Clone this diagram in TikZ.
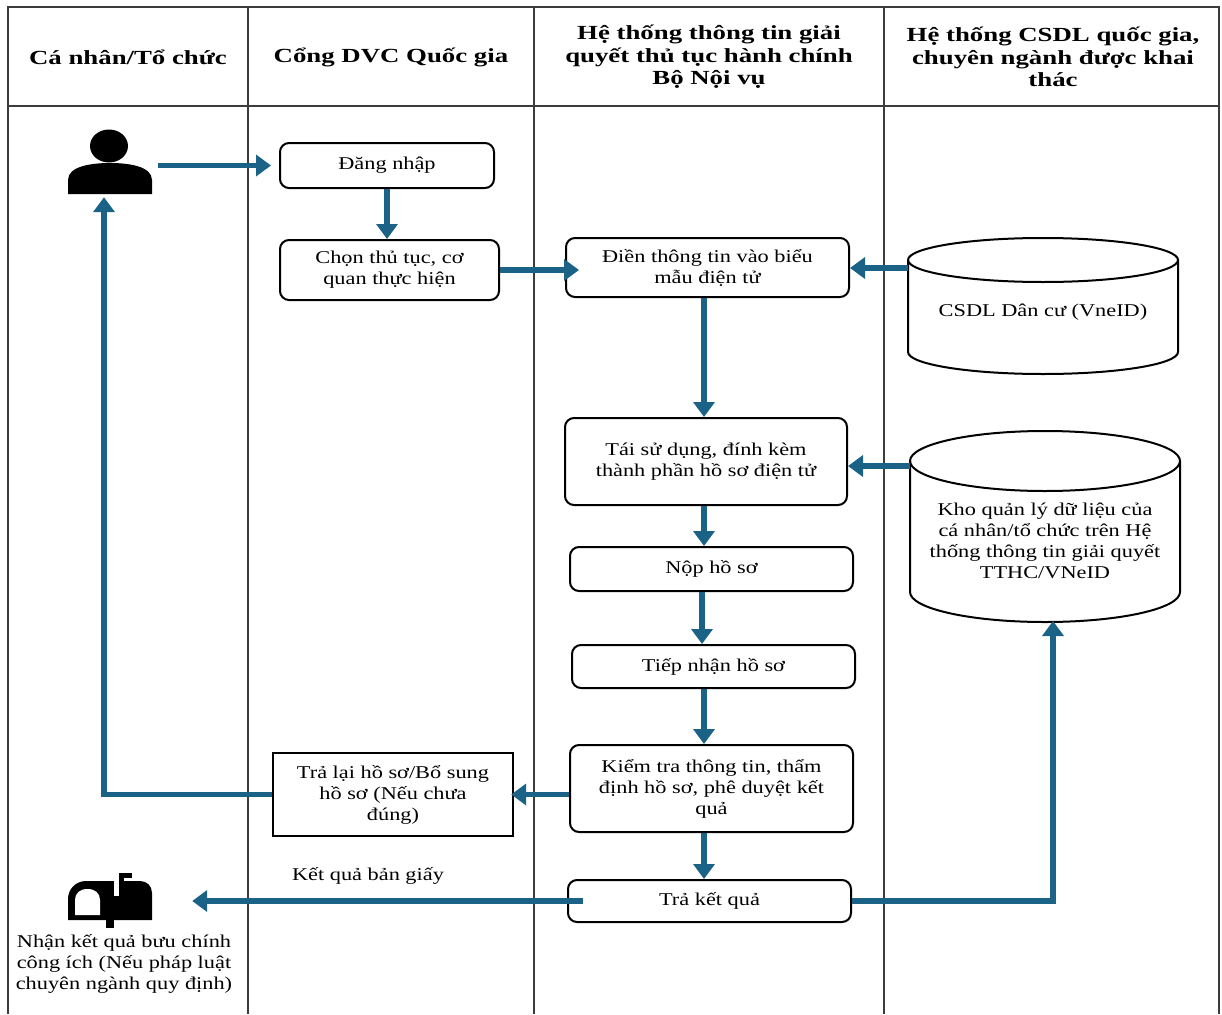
\documentclass[tikz,border=0pt]{standalone}
\usepackage{fontspec}
\setmainfont{Liberation Serif}[FakeStretch=1.24]
\newfontfamily\headfont{Liberation Serif}[FakeStretch=1.34]
\usetikzlibrary{arrows.meta,calc}
\definecolor{flowblue}{RGB}{26,99,135}
\definecolor{gridgray}{RGB}{60,60,60}
\tikzset{
	box/.style={draw=black, line width=2pt, rounded corners=9pt, align=center, inner sep=0pt, font=\fontsize{18}{21}\selectfont},
	sqbox/.style={box, rounded corners=0pt, line width=2.4pt},
	txt/.style={align=center, inner sep=0pt, font=\fontsize{18}{21}\selectfont},
	lanehead/.style={align=center, inner sep=0pt, font=\headfont\bfseries\fontsize{20}{22.5}\selectfont},
	lane/.style={draw=gridgray, line width=1.4pt},
	flow/.style={draw=flowblue, line width=5.5pt, -{Triangle[length=15pt,width=21pt]}},
	icon/.style={inner sep=0pt, minimum width=84pt},
}

\begin{document}
\begin{tikzpicture}[x=1pt,y=-1pt]
		%%%%% START %%%%%
		\useasboundingbox (0,0) rectangle (1222,1014);
		
		\draw[lane] (8,1014) -- (8,7) -- (1219,7) -- (1219,1014);
		\draw[lane] (8,106) -- (1219,106);
		\foreach \x in {248,534,884}
			\draw[lane] (\x,7) -- (\x,1014);
		
		\node[lanehead] (h1) at (128,57) {Cá nhân/Tổ chức};
		\node[lanehead] (h2) at (391,57) {Cổng DVC Quốc gia};
		\node[lanehead] (h3) at (709,57) {Hệ thống thông tin giải\\quyết thủ tục hành chính\\Bộ Nội vụ};
		\node[lanehead] (h4) at (1053,57) {Hệ thống CSDL quốc gia,\\chuyên ngành được khai\\thác};
		
		%% person
		\node[icon, minimum height=66pt] (user) at (110,161) {};
		\fill (109,146) ellipse [x radius=19pt, y radius=16.5pt];
		\fill (68,194) -- (68,180) .. controls (68,166) and (92,163) .. (110,163) .. controls (128,163) and (152,166) .. (152,180) -- (152,194) -- cycle;
		
		%% mailbox
		\node[icon, minimum height=55pt] (mail) at (110,900.5) {};
		\fill (68,920) -- (68,899) .. controls (68,889) and (76,881) .. (86,881) -- (140,881) .. controls (147,881) and (152,886) .. (152,893) -- (152,920) -- cycle;
		\fill[white] (75,915) -- (75,900) .. controls (75,893) and (80,889) .. (87.5,889) .. controls (95,889) and (100,893) .. (100,900) -- (100,915) -- cycle;
		\fill[white] (114,880) rectangle (119,896);
		\fill (119,873) rectangle (124,894);
		\fill (119,873) rectangle (132,878);
		\fill (106,919) rectangle (114,928);
		
		%% boxes
		\node[box, minimum width=214pt, minimum height=45pt] (dang) at (387,165.5) {Đăng nhập};
		\node[box, minimum width=219pt, minimum height=60pt] (chon) at (389.5,270) {Chọn thủ tục, cơ\\quan thực hiện};
		\node[box, minimum width=283pt, minimum height=59pt] (dien) at (707.5,267.5) {Điền thông tin vào biểu\\mẫu điện tử};
		\node[box, minimum width=282pt, minimum height=87pt] (tai) at (706,461.5) {Tái sử dụng, đính kèm\\thành phần hồ sơ điện tử};
		\node[box, minimum width=283pt, minimum height=44pt] (nop) at (711.5,569) {Nộp hồ sơ};
		\node[box, minimum width=283pt, minimum height=43pt] (tiep) at (713.5,666.5) {Tiếp nhận hồ sơ};
		\node[box, minimum width=283pt, minimum height=87pt] (kiem) at (711.5,788.5) {Kiểm tra thông tin, thẩm\\định hồ sơ, phê duyệt kết\\quả};
		\node[sqbox, minimum width=240pt, minimum height=83pt] (tralai) at (393,794.5) {Trả lại hồ sơ/Bổ sung\\hồ sơ (Nếu chưa\\đúng)};
		\node[box, minimum width=283pt, minimum height=42pt] (trakq) at (709.5,901) {Trả kết quả};
		
		\node[txt] (paper) at (368,876) {Kết quả bản giấy};
		\node[txt] (post) at (124,964) {Nhận kết quả bưu chính\\công ích (Nếu pháp luật\\chuyên ngành quy định)};
		
		%% databases
		\draw[line width=2pt] (908,260) -- (908,352) arc[start angle=180, end angle=360, x radius=135pt, y radius=22pt] -- (1178,260);
		\draw[line width=2pt] (1043,260) ellipse [x radius=135pt, y radius=22pt];
		\node[txt] (csdl) at (1043,312) {CSDL Dân cư (VneID)};
		\coordinate (csdlW) at (908,268);
		
		\draw[line width=2pt] (910,461) -- (910,592) arc[start angle=180, end angle=360, x radius=135pt, y radius=30pt] -- (1180,461);
		\draw[line width=2pt] (1045,461) ellipse [x radius=135pt, y radius=30pt];
		\node[txt] (kho) at (1045,541) {Kho quản lý dữ liệu của\\cá nhân/tổ chức trên Hệ\\thống thông tin giải quyết\\TTHC/VNeID};
		\coordinate (khoW) at (910,466);
		\coordinate (khoS) at (1053,621);
		
		%% connectors
		\coordinate (spine) at (704,0);
		\draw[flow] ([xshift=6pt]user.east |- dang.west) -- ([xshift=-8pt]dang.west);
		\draw[flow] (dang.south) -- (chon.north -| dang.south);
		\draw[flow] (chon.east) -- ([xshift=14pt]dien.west |- chon.east);
		\draw[flow] (csdlW) -- (dien.east |- csdlW);
		\draw[flow] (dien.south -| spine) -- (tai.north -| spine);
		\draw[flow] (khoW) -- (tai.east |- khoW);
		\draw[flow] (tai.south -| spine) -- (nop.north -| spine);
		\draw[flow] ([xshift=-2pt]nop.south -| spine) -- ([xshift=-2pt]tiep.north -| spine);
		\draw[flow] (tiep.south -| spine) -- (kiem.north -| spine);
		\draw[flow] (kiem.west |- tralai.east) -- ([xshift=-3pt]tralai.east);
		\draw[flow] (tralai.west) -| ([xshift=-6pt,yshift=-3pt]user.south);
		\draw[flow] (kiem.south -| spine) -- (trakq.north -| spine);
		\draw[flow] ([xshift=16pt]trakq.west) -- ([xshift=40pt]mail.east |- trakq.west);
		\draw[flow] (trakq.east) -| (khoS);
		
		%%%%% END %%%%%
\end{tikzpicture}
\end{document}
